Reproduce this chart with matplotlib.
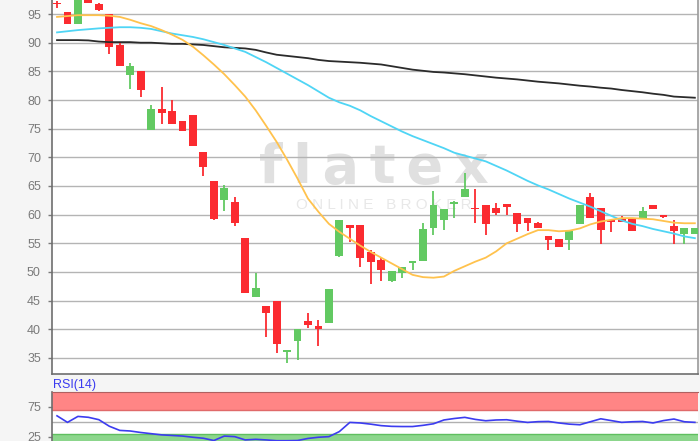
import matplotlib
matplotlib.use("Agg")
import matplotlib.pyplot as plt
import numpy as np

plt.rcParams['font.family'] = ['Liberation Sans', 'DejaVu Sans']

# candles: open, high, low, close
opens = [96.8, 95.4, 93.3, 97.6, 96.7, 95.0, 89.6, 84.3, 85.0, 74.8,
         78.5, 78.0, 76.4, 77.3, 71.0, 65.9, 62.6, 62.2, 55.9, 45.6,
         44.1, 45.0, 36.1, 37.9, 41.4, 40.6, 41.1, 52.8, 58.2, 58.2,
         53.4, 52.1, 48.4, 49.8, 51.6, 52.0, 57.6, 59.0, 61.9, 63.0,
         61.1, 61.6, 61.2, 61.9, 60.3, 59.5, 58.6, 56.2, 55.8, 55.6,
         58.3, 63.0, 61.2, 58.9, 59.5, 59.3, 59.5, 61.6, 60.0, 58.1,
         56.7, 56.7]
highs = [97.2, 95.4, 98.0, 97.8, 97.0, 95.0, 90.1, 86.4, 85.0, 79.1,
         82.3, 80.0, 76.4, 77.3, 71.0, 65.9, 65.2, 63.0, 55.9, 49.8,
         44.1, 45.0, 36.3, 40.1, 42.8, 41.7, 47.1, 59.0, 58.2, 58.2,
         53.8, 52.5, 50.2, 50.9, 51.9, 58.6, 64.1, 60.9, 62.3, 67.3,
         64.5, 61.6, 62.1, 61.9, 60.3, 59.5, 58.8, 56.2, 55.8, 57.2,
         61.7, 63.8, 61.2, 58.9, 59.7, 59.3, 61.4, 61.6, 60.0, 59.0,
         57.6, 57.6]
lows = [96.0, 93.3, 93.3, 96.9, 95.6, 88.1, 85.9, 82.0, 80.6, 74.8,
        75.8, 75.9, 74.6, 71.9, 66.8, 59.1, 60.6, 58.0, 46.3, 45.6,
        38.7, 35.8, 34.2, 34.6, 40.3, 37.1, 41.1, 52.6, 55.3, 50.8,
        47.9, 48.5, 48.2, 48.9, 50.3, 52.0, 56.5, 57.4, 59.4, 63.0,
        58.6, 56.5, 60.0, 60.0, 57.0, 57.2, 57.7, 53.9, 54.4, 53.9,
        58.3, 59.5, 54.9, 56.9, 58.8, 57.2, 59.5, 61.0, 59.4, 54.9,
        54.8, 56.7]
closes = [96.7, 93.3, 97.6, 96.9, 95.7, 89.3, 85.9, 85.9, 81.7, 78.4,
          77.7, 75.9, 74.6, 71.9, 68.4, 59.3, 64.6, 58.5, 46.4, 47.2,
          42.9, 37.4, 36.3, 40.1, 40.8, 40.0, 47.1, 59.0, 57.7, 52.5,
          51.7, 50.3, 50.2, 50.9, 51.9, 57.5, 61.6, 60.9, 62.2, 64.5,
          60.9, 58.3, 60.3, 61.4, 58.4, 58.6, 57.7, 55.6, 54.4, 57.2,
          61.7, 59.5, 57.4, 58.7, 58.8, 57.2, 60.7, 61.0, 59.6, 57.2,
          57.6, 57.6]

ma_long = [90.45, 90.45, 90.45, 90.4, 90.2, 90.1, 90.1, 90.1, 90.0, 90.0,
           89.9, 89.8, 89.8, 89.7, 89.6, 89.4, 89.2, 89.1, 89.0, 88.75,
           88.3, 87.9, 87.7, 87.5, 87.3, 87.0, 86.8, 86.7, 86.6, 86.5,
           86.35, 86.2, 85.9, 85.6, 85.3, 85.1, 84.9, 84.8, 84.65, 84.5,
           84.3, 84.1, 83.9, 83.75, 83.6, 83.4, 83.2, 83.05, 82.9, 82.7,
           82.5, 82.35, 82.15, 82.0, 81.75, 81.55, 81.35, 81.1, 80.9, 80.6,
           80.5, 80.4]
ma_mid = [91.8, 92.0, 92.2, 92.35, 92.5, 92.6, 92.7, 92.7, 92.6, 92.4,
          92.0, 91.6, 91.3, 91.0, 90.6, 90.1, 89.6, 89.0, 88.4, 87.5,
          86.6, 85.6, 84.6, 83.6, 82.6, 81.5, 80.4, 79.6, 79.0, 78.2,
          77.2, 76.3, 75.4, 74.5, 73.7, 73.0, 72.3, 71.6, 70.8, 70.3,
          69.8, 69.3, 68.5, 67.7, 66.8, 65.9, 65.1, 64.4, 63.6, 62.8,
          62.1, 61.4, 60.6, 59.8, 59.0, 58.4, 58.0, 57.5, 57.1, 56.7,
          56.2, 55.9]
ma_short = [94.5, 94.65, 94.8, 94.8, 94.8, 94.7, 94.5, 94.0, 93.4, 92.9,
            92.2, 91.4, 90.5, 89.3, 87.8, 86.2, 84.5, 82.6, 80.6, 78.2,
            75.5, 72.7, 69.6, 66.3, 62.8, 60.5, 58.4, 57.0, 55.8, 54.6,
            53.5, 52.5, 51.5, 50.5, 49.5, 49.1, 49.0, 49.2, 50.2, 51.0,
            51.8, 52.5, 53.6, 55.0, 55.8, 56.6, 57.3, 57.3, 57.1, 57.2,
            57.6, 58.3, 58.8, 59.1, 59.4, 59.4, 59.3, 59.2, 58.9, 58.6,
            58.5, 58.5]
rsi = [60, 49, 59, 57.5, 53.5, 42.5, 35.5, 34.5, 32, 30,
       28, 27, 26, 24, 22.3, 18.5, 26, 25, 19.5, 20.5,
       19.5, 18.2, 18.2, 18.5, 22, 24, 25, 33.5, 48.9, 48,
       46, 43.5, 42.3, 42, 42, 44, 46.6, 53, 55.5, 57.4,
       54, 51.7, 53, 53.4, 51, 48.9, 50.2, 50.5, 48, 46,
       45, 50, 55, 52, 49, 50, 50.5, 48, 52, 54.6,
       50, 49]

price_ticks = [35, 40, 45, 50, 55, 60, 65, 70, 75, 80, 85, 90, 95]
rsi_ticks = [25, 75]

RED = '#fb2b30'
GREEN = '#62c962'
GRID = '#b4b4b4'
LABEL = '#7a7a7a'

fig = plt.figure(figsize=(7, 4.41), dpi=100, facecolor='#f5f5f5')
ax = fig.add_axes([52 / 700, 67 / 441, 646 / 700, 374 / 441])
rax = fig.add_axes([52 / 700, 0, 646 / 700, 49 / 441])

x = np.arange(len(opens))
o = np.array(opens)
c = np.array(closes)
colors = [GREEN if cc >= oo else RED for oo, cc in zip(o, c)]
bottom = np.minimum(o, c)
height = np.maximum(np.abs(c - o), 0.3)

ax.vlines(x, lows, highs, colors=colors, lw=1.3, zorder=3)
ax.bar(x, height, bottom=bottom, width=0.75, color=colors, zorder=4)

ax.plot(x, ma_long, color='#2b2b2b', lw=1.3, zorder=5)
ax.plot(x, ma_mid, color='#4fd5f5', lw=1.3, zorder=5)
ax.plot(x, ma_short, color='#ffc24d', lw=1.3, zorder=5)

# watermark
ax.text(30.3, 65.5, 'f\u2009l\u2009a\u2009t\u2009e\u2009x', ha='center', va='baseline',
        fontsize=39, fontweight='bold', color='#e0e0e0', zorder=0.5,
        family='DejaVu Sans')
ax.text(31.3, 60.9, 'O N L I N E   B R O K E R', ha='center', va='baseline',
        fontsize=11, color='#e8e8e8', zorder=0.5)

ax.set_xlim(-0.48, 61.3)
ax.set_ylim(32.2, 97.45)
ax.set_yticks(price_ticks)
ax.set_xticks([])
ax.grid(axis='y', color=GRID, lw=1.0, zorder=1)
ax.spines['top'].set_visible(False)
ax.spines['left'].set_color('#6e6e6e')
ax.spines['bottom'].set_color('#6e6e6e')
ax.spines['right'].set_color('#9a9a9a')
for s in ('left', 'bottom', 'right'):
    ax.spines[s].set_linewidth(1.2)
ax.tick_params(axis='y', colors=LABEL, labelsize=9, length=3, width=1, pad=5)

# RSI panel
rax.axhspan(70, 100, color='#ff8585', lw=0, zorder=1)
rax.axhspan(0, 30, color='#8cd68c', lw=0, zorder=1)
rax.axhline(70, color='#e06a6a', lw=1.0, zorder=2)
rax.axhline(30, color='#5fbf5f', lw=1.0, zorder=2)
rax.axhline(50, color='#b0b0b0', lw=1.0, zorder=2)
rax.plot(x, rsi, color='#3c3cf0', lw=1.2, zorder=3)
rax.set_xlim(-0.48, 61.3)
rax.set_ylim(17.7, 100)
rax.set_yticks(rsi_ticks)
rax.set_xticks([])
for s in ('right', 'bottom'):
    rax.spines[s].set_visible(False)
rax.spines['left'].set_color('#6e6e6e')
rax.spines['left'].set_linewidth(1.2)
rax.spines['top'].set_color('#b06060')
rax.tick_params(axis='y', colors=LABEL, labelsize=9, length=3, width=1, pad=5)
fig.text(53 / 700, 1 - 385 / 441, 'RSI(14)', color='#3a3af0', fontsize=9,
         ha='left', va='center')

fig.savefig('out.png', dpi=100, facecolor=fig.get_facecolor())
